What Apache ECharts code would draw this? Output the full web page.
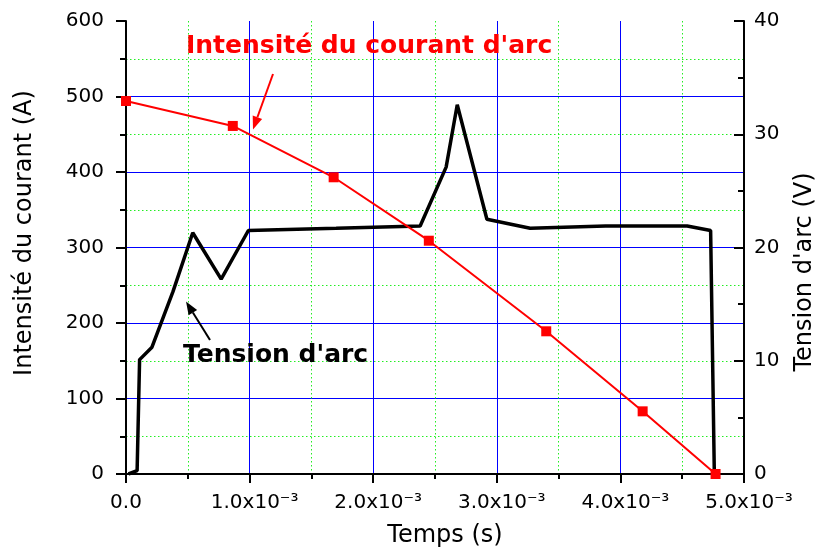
<!DOCTYPE html>
<html>
<head>
<meta charset="utf-8">
<script src="https://cdn.jsdelivr.net/npm/echarts@6/dist/echarts.min.js"></script>
<style>
  html, body { margin: 0; padding: 0; background: #ffffff; }
  #chart { width: 818px; height: 552px; }
</style>
</head>
<body>
<div id="chart"></div>
<script>
// Arc current (A) sampled over time (s)
const timeCurrent = [0, 0.000864, 0.00168, 0.00245, 0.00340, 0.00418, 0.00477];
const current     = [494, 461, 393, 309, 189, 83, 0];

// Arc voltage (V) over time (s)
const timeVoltage = [0.00002, 0.00009, 0.00011, 0.00021, 0.00038, 0.00054, 0.00077, 0.00099,
                     0.00170, 0.00238, 0.00259, 0.00268, 0.00292, 0.00327, 0.00388, 0.00454,
                     0.00473, 0.00476];
const voltage     = [0, 0.3, 10.1, 11.2, 16.1, 21.3, 17.2, 21.5,
                     21.7, 21.9, 27.1, 32.6, 22.5, 21.7, 21.9, 21.9,
                     21.5, 0];

// Axis ranges and steps
const timeAxis    = { min: 0, max: 0.005, step: 0.001 };
const currentAxis = { min: 0, max: 600, step: 100 };
const voltageAxis = { min: 0, max: 40, step: 10 };

const FONT = 'DejaVu Sans';
const chart = echarts.init(document.getElementById('chart'));

function pairs(xs, ys) { return xs.map((x, i) => [x, ys[i]]); }

// Arrow (line + triangular head) from tail to tip, in pixels
function arrow(tail, tip, color) {
  const dx = tip[0] - tail[0], dy = tip[1] - tail[1];
  const len = Math.hypot(dx, dy), ux = dx / len, uy = dy / len;
  const hl = 13, hw = 5;
  const bx = tip[0] - ux * hl, by = tip[1] - uy * hl;
  return [
    { type: 'line', shape: { x1: tail[0], y1: tail[1], x2: bx, y2: by },
      style: { stroke: color, lineWidth: 2 }, z: 10 },
    { type: 'polygon', shape: { points: [tip, [bx - uy * hw, by + ux * hw], [bx + uy * hw, by - ux * hw]] },
      style: { fill: color }, z: 10 }
  ];
}

const gridMinor = { show: true, lineStyle: { color: '#22ee22', width: 1, type: [1.5, 2.5] } };

chart.setOption({
  animation: false,
  backgroundColor: '#ffffff',
  grid: { left: 126, right: 74, top: 21, bottom: 78, containLabel: false },
  xAxis: {
    type: 'value',
    min: timeAxis.min, max: timeAxis.max, interval: timeAxis.step,
    axisLine: { show: true, onZero: false, lineStyle: { color: '#000', width: 2 } },
    axisTick: { show: true, inside: false, length: 9, lineStyle: { color: '#000', width: 2 } },
    minorTick: { show: true, splitNumber: 2, length: 5, lineStyle: { color: '#000', width: 2 } },
    splitLine: { show: true, showMinLine: false, showMaxLine: false, lineStyle: { color: '#0000ff', width: 1 } },
    minorSplitLine: gridMinor,
    axisLabel: {
      margin: 19,
      fontSize: 20,
      fontFamily: FONT,
      color: '#000',
      formatter: v => {
        const ms = Math.round(v * 1e4) / 10;
        if (ms === 0) return '0.0';
        return '\u2002' + ms.toFixed(1) + 'x10\u207B\u00B3';
      }
    }
  },
  yAxis: [
    {
      type: 'value',
      min: currentAxis.min, max: currentAxis.max, interval: currentAxis.step,
      axisLine: { show: true, onZero: false, lineStyle: { color: '#000', width: 2 } },
      axisTick: { show: true, inside: false, length: 10, lineStyle: { color: '#000', width: 2 } },
      minorTick: { show: true, splitNumber: 2, length: 6, lineStyle: { color: '#000', width: 2 } },
      splitLine: { show: true, showMinLine: false, showMaxLine: false, lineStyle: { color: '#0000ff', width: 1 } },
      minorSplitLine: gridMinor,
      axisLabel: { margin: 22, color: '#000', fontSize: 20, fontFamily: FONT }
    },
    {
      type: 'value',
      position: 'right',
      min: voltageAxis.min, max: voltageAxis.max, interval: voltageAxis.step,
      axisLine: { show: true, onZero: false, lineStyle: { color: '#000', width: 2 } },
      axisTick: { show: true, inside: true, length: 10, lineStyle: { color: '#000', width: 2 } },
      minorTick: { show: true, splitNumber: 2, length: 6, lineStyle: { color: '#000', width: 2 } },
      splitLine: { show: false },
      axisLabel: { margin: 10, color: '#000', fontSize: 20, fontFamily: FONT }
    }
  ],
  series: [
    {
      name: 'Tension',
      type: 'line',
      yAxisIndex: 1,
      data: pairs(timeVoltage, voltage),
      showSymbol: false,
      symbol: 'none',
      lineStyle: { color: '#000', width: 3.5 },
      z: 3
    },
    {
      name: 'Intensité',
      type: 'line',
      yAxisIndex: 0,
      data: pairs(timeCurrent, current),
      symbol: 'rect',
      symbolSize: 10,
      itemStyle: { color: '#ff0000' },
      lineStyle: { color: '#ff0000', width: 2 },
      z: 4
    }
  ],
  graphic: [
    { type: 'text', x: 445, y: 536, style: { text: 'Temps (s)', font: '24px "DejaVu Sans"', fill: '#000', align: 'center', verticalAlign: 'middle' } },
    { type: 'text', x: 25, y: 233, rotation: Math.PI / 2, style: { text: 'Intensité du courant (A)', font: '24px "DejaVu Sans"', fill: '#000', align: 'center', verticalAlign: 'middle' } },
    { type: 'text', x: 805, y: 272, rotation: Math.PI / 2, style: { text: "Tension d'arc (V)", font: '24px "DejaVu Sans"', fill: '#000', align: 'center', verticalAlign: 'middle' } },
    { type: 'text', x: 186, y: 46, z: 10, style: { text: "Intensité du courant d'arc", font: 'bold 25px "DejaVu Sans"', fill: '#ff0000', align: 'left', verticalAlign: 'middle' } },
    { type: 'text', x: 183, y: 355, z: 10, style: { text: "Tension d'arc", font: 'bold 25px "DejaVu Sans"', fill: '#000', align: 'left', verticalAlign: 'middle' } },
    ...arrow([273, 74], [253, 129.5], '#ff0000'),
    ...arrow([210, 340], [186, 301.5], '#000')
  ]
});
</script>
</body>
</html>
